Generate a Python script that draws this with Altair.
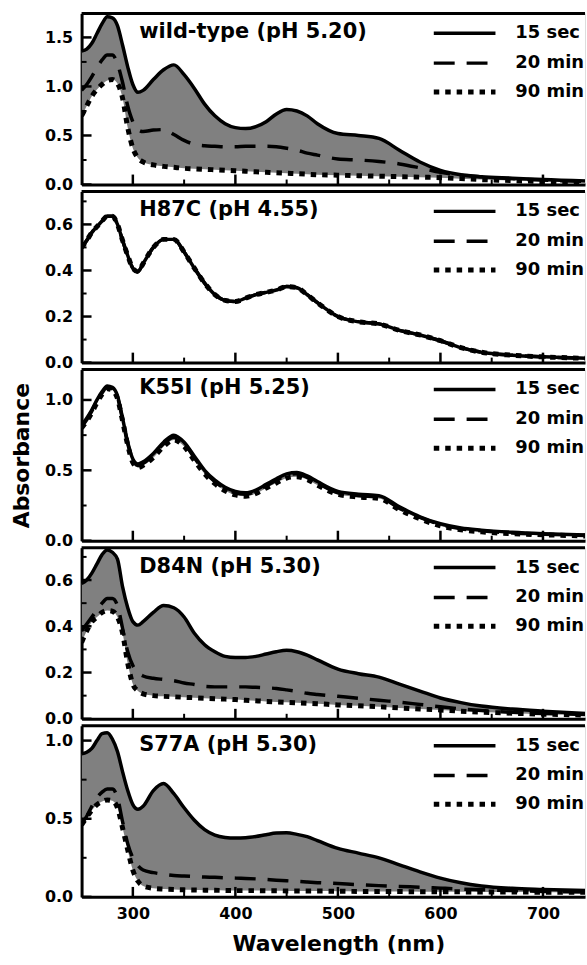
import altair as alt
import pandas as pd

# ---------------- data ----------------
WL = [250, 255, 260, 265, 270, 275, 280, 285, 290, 295, 300, 305, 310,
      320, 330, 340, 350, 360, 370, 380, 390, 400, 410, 420, 430, 440, 450, 460, 470, 480,
      500, 520, 540, 560, 580, 600, 620, 640,
      670, 700, 745]

WT_15S = [1.36, 1.38, 1.44, 1.54, 1.64, 1.71, 1.70, 1.62, 1.42, 1.20, 1.02, 0.94, 0.96,
          1.07, 1.17, 1.22, 1.12, 0.98, 0.82, 0.70, 0.62, 0.58, 0.57, 0.59, 0.64, 0.72, 0.765, 0.75, 0.70, 0.62,
          0.52, 0.50, 0.47, 0.35, 0.23, 0.145, 0.10, 0.08,
          0.065, 0.05, 0.035]
WT_20M = [0.96, 1.02, 1.10, 1.19, 1.27, 1.32, 1.32, 1.23, 1.04, 0.80, 0.64, 0.56, 0.54,
          0.555, 0.56, 0.51, 0.45, 0.41, 0.395, 0.39, 0.385, 0.385, 0.39, 0.39, 0.39, 0.385, 0.37, 0.35, 0.32, 0.30,
          0.26, 0.25, 0.235, 0.21, 0.17, 0.125, 0.095, 0.078,
          0.06, 0.045, 0.03]
WT_90M = [0.70, 0.80, 0.90, 0.97, 1.02, 1.06, 1.07, 1.03, 0.88, 0.58, 0.37, 0.27, 0.23,
          0.20, 0.185, 0.175, 0.165, 0.16, 0.155, 0.15, 0.145, 0.14, 0.135, 0.13, 0.125, 0.12, 0.115, 0.11, 0.105, 0.10,
          0.095, 0.09, 0.085, 0.08, 0.075, 0.07, 0.06, 0.05,
          0.04, 0.03, 0.025]

H87C_ALL = [0.50, 0.53, 0.565, 0.59, 0.615, 0.635, 0.635, 0.60, 0.53, 0.465, 0.41, 0.395, 0.43,
            0.50, 0.535, 0.535, 0.48, 0.41, 0.345, 0.295, 0.27, 0.265, 0.28, 0.295, 0.305, 0.315, 0.33, 0.325, 0.295, 0.26,
            0.20, 0.177, 0.168, 0.14, 0.12, 0.095, 0.065, 0.045,
            0.032, 0.025, 0.018]

K55I_15S = [0.82, 0.87, 0.93, 1.00, 1.06, 1.10, 1.09, 1.03, 0.87, 0.70, 0.58, 0.545, 0.56,
            0.62, 0.70, 0.75, 0.70, 0.60, 0.50, 0.43, 0.38, 0.35, 0.34, 0.36, 0.40, 0.44, 0.475, 0.485, 0.46, 0.42,
            0.35, 0.33, 0.32, 0.24, 0.17, 0.12, 0.09, 0.075,
            0.06, 0.05, 0.04]
K55I_20M = [0.81, 0.86, 0.92, 0.99, 1.05, 1.09, 1.08, 1.02, 0.86, 0.69, 0.57, 0.535, 0.55,
            0.61, 0.69, 0.735, 0.69, 0.59, 0.49, 0.42, 0.37, 0.34, 0.33, 0.35, 0.39, 0.43, 0.465, 0.475, 0.45, 0.41,
            0.34, 0.32, 0.31, 0.23, 0.165, 0.115, 0.085, 0.07,
            0.055, 0.046, 0.037]
K55I_90M = [0.80, 0.85, 0.91, 0.98, 1.04, 1.08, 1.07, 1.01, 0.85, 0.68, 0.555, 0.52, 0.535,
            0.59, 0.67, 0.715, 0.67, 0.57, 0.475, 0.405, 0.355, 0.325, 0.315, 0.335, 0.375, 0.41, 0.445, 0.455, 0.435, 0.395,
            0.33, 0.31, 0.30, 0.22, 0.155, 0.105, 0.078, 0.063,
            0.05, 0.042, 0.033]

D84N_15S = [0.585, 0.60, 0.63, 0.67, 0.71, 0.73, 0.72, 0.69, 0.57, 0.48, 0.42, 0.405, 0.42,
            0.46, 0.49, 0.48, 0.44, 0.37, 0.32, 0.29, 0.27, 0.265, 0.265, 0.27, 0.28, 0.29, 0.296, 0.29, 0.275, 0.255,
            0.215, 0.195, 0.18, 0.15, 0.12, 0.09, 0.07, 0.055,
            0.042, 0.033, 0.022]
D84N_20M = [0.38, 0.41, 0.44, 0.47, 0.50, 0.52, 0.52, 0.49, 0.39, 0.29, 0.23, 0.20, 0.185,
            0.175, 0.17, 0.165, 0.155, 0.148, 0.14, 0.138, 0.138, 0.138, 0.138, 0.136, 0.134, 0.131, 0.125, 0.118, 0.11, 0.105,
            0.097, 0.089, 0.08, 0.072, 0.062, 0.052, 0.043, 0.036,
            0.028, 0.023, 0.018]
D84N_90M = [0.33, 0.38, 0.42, 0.44, 0.46, 0.468, 0.465, 0.44, 0.37, 0.24, 0.15, 0.12, 0.108,
            0.10, 0.097, 0.095, 0.093, 0.091, 0.089, 0.087, 0.085, 0.083, 0.08, 0.078, 0.075, 0.073, 0.071, 0.069, 0.067, 0.065,
            0.06, 0.056, 0.052, 0.047, 0.042, 0.038, 0.033, 0.029,
            0.024, 0.02, 0.016]

S77A_15S = [0.915, 0.925, 0.95, 1.00, 1.045, 1.05, 1.01, 0.93, 0.80, 0.68, 0.59, 0.56, 0.58,
            0.68, 0.725, 0.66, 0.57, 0.49, 0.43, 0.395, 0.38, 0.376, 0.378, 0.386, 0.398, 0.408, 0.41, 0.40, 0.385, 0.36,
            0.31, 0.28, 0.25, 0.205, 0.16, 0.12, 0.09, 0.07,
            0.055, 0.048, 0.04]
S77A_20M = [0.47, 0.515, 0.58, 0.635, 0.67, 0.69, 0.69, 0.635, 0.48, 0.34, 0.25, 0.20, 0.172,
            0.155, 0.145, 0.137, 0.133, 0.13, 0.127, 0.125, 0.122, 0.12, 0.118, 0.115, 0.111, 0.107, 0.103, 0.099, 0.095, 0.091,
            0.085, 0.078, 0.072, 0.067, 0.062, 0.056, 0.05, 0.046,
            0.04, 0.035, 0.03]
S77A_90M = [0.46, 0.51, 0.555, 0.59, 0.61, 0.62, 0.615, 0.57, 0.44, 0.30, 0.17, 0.10, 0.07,
            0.055, 0.05, 0.047, 0.045, 0.044, 0.043, 0.042, 0.041, 0.04, 0.04, 0.04, 0.039, 0.039, 0.038, 0.038, 0.037, 0.037,
            0.036, 0.035, 0.035, 0.034, 0.033, 0.033, 0.032, 0.031,
            0.031, 0.03, 0.03]

PANEL_TITLES = ["wild-type (pH 5.20)", "H87C (pH 4.55)", "K55I (pH 5.25)", "D84N (pH 5.30)", "S77A (pH 5.30)"]
SERIES = [(WT_15S, WT_20M, WT_90M), (H87C_ALL, H87C_ALL, H87C_ALL), (K55I_15S, K55I_20M, K55I_90M),
          (D84N_15S, D84N_20M, D84N_90M), (S77A_15S, S77A_20M, S77A_90M)]
Y_MAX = [1.745, 0.743, 1.216, 0.74, 1.095]
Y_MAJOR = [[0, 0.5, 1.0, 1.5], [0, 0.2, 0.4, 0.6], [0, 0.5, 1.0], [0, 0.2, 0.4, 0.6], [0, 0.5, 1.0]]
Y_MINOR = [[0.25, 0.75, 1.25], [0.1, 0.3, 0.5, 0.7], [0.25, 0.75], [0.1, 0.3, 0.5, 0.7], [0.25, 0.75]]
X_MAJOR = [300, 400, 500, 600, 700]
X_MINOR = [350, 450, 550, 650]
X_DOMAIN = [250, 741]
LEGEND_LABELS = ["15 sec", "20 min", "90 min"]

# ---------------- styling ----------------
W, H = 506, 172
FONT = "DejaVu Sans"
GRAY = "#808080"
STYLES = [dict(strokeWidth=3.5), dict(strokeWidth=3.5, strokeDash=[21, 12]), dict(strokeWidth=5, strokeDash=[5.5, 6])]
LEG_Y = [20, 50, 79]


def panel(i):
    s15, m20, m90 = SERIES[i]
    last = i == len(PANEL_TITLES) - 1
    df = pd.DataFrame({"wl": WL, "s15": s15, "m20": m20, "m90": m90})
    xs = alt.Scale(domain=X_DOMAIN, nice=False, zero=False)
    ys = alt.Scale(domain=[0, Y_MAX[i]], nice=False)

    xkw = dict(values=X_MAJOR, ticks=False, grid=False, domainWidth=3, domainColor="black",
               labels=last, labelFont=FONT, labelFontSize=16, labelFontWeight="bold", labelColor="black",
               labelPadding=9, format="d")
    if last:
        xkw.update(title="Wavelength (nm)", titleFont=FONT, titleFontSize=22, titleFontWeight="bold",
                   titleColor="black", titlePadding=12, titleX=258)
    else:
        xkw.update(title=None)
    xaxis = alt.Axis(**xkw)

    ykw = dict(values=Y_MAJOR[i], ticks=False, grid=False, domainWidth=3, domainColor="black",
               labelFont=FONT, labelFontSize=16, labelFontWeight="bold", labelColor="black",
               labelPadding=9, format=".1f")
    if i == 2:
        ykw.update(title="Absorbance", titleFont=FONT, titleFontSize=22, titleFontWeight="bold",
                   titleColor="black", titlePadding=11)
    else:
        ykw.update(title=None)
    yaxis = alt.Axis(**ykw)

    def X(field="wl"):
        return alt.X(f"{field}:Q", scale=xs, axis=xaxis)

    def Y(field):
        return alt.Y(f"{field}:Q", scale=ys, axis=yaxis)

    base = alt.Chart(df)
    area = base.mark_area(color=GRAY, opacity=1, interpolate="monotone", clip=True).encode(
        x=X(), y=Y("s15"), y2="m90:Q")
    l90 = base.mark_line(color="black", interpolate="monotone", clip=True, strokeCap="butt", **STYLES[2]).encode(
        x=X(), y=Y("m90"))
    l20 = base.mark_line(color="black", interpolate="monotone", clip=True, strokeCap="butt", **STYLES[1]).encode(
        x=X(), y=Y("m20"))
    l15 = base.mark_line(color="black", interpolate="monotone", clip=True, **STYLES[0]).encode(
        x=X(), y=Y("s15"))

    xmaj = alt.Chart(pd.DataFrame({"wl": X_MAJOR})).mark_rule(color="black", strokeWidth=2.5).encode(
        x=X(), y=alt.value(H), y2=alt.value(H - 10))
    xmin = alt.Chart(pd.DataFrame({"wl": X_MINOR})).mark_rule(color="black", strokeWidth=2).encode(
        x=X(), y=alt.value(H), y2=alt.value(H - 5))
    ymaj = alt.Chart(pd.DataFrame({"v": Y_MAJOR[i]})).mark_rule(color="black", strokeWidth=2.5).encode(
        y=Y("v"), x=alt.value(0), x2=alt.value(10))
    ymin = alt.Chart(pd.DataFrame({"v": Y_MINOR[i]})).mark_rule(color="black", strokeWidth=2).encode(
        y=Y("v"), x=alt.value(0), x2=alt.value(5))

    one = pd.DataFrame({"k": [0]})
    top = alt.Chart(one).mark_rule(color="black", strokeWidth=3).encode(
        x=alt.value(0), x2=alt.value(W), y=alt.value(0))
    title = alt.Chart(pd.DataFrame({"t": [PANEL_TITLES[i]]})).mark_text(
        align="left", baseline="alphabetic", font=FONT, fontSize=21, fontWeight="bold", color="black").encode(
        x=alt.value(58), y=alt.value(25), text="t:N")

    layers = [area, l90, l20, l15, xmaj, xmin, ymaj, ymin, top, title]
    for k, lab in enumerate(LEGEND_LABELS):
        sty = dict(STYLES[k])
        layers.append(alt.Chart(one).mark_rule(color="black", strokeCap="butt", **sty).encode(
            x=alt.value(354), x2=alt.value(416), y=alt.value(LEG_Y[k])))
        layers.append(alt.Chart(pd.DataFrame({"t": [lab]})).mark_text(
            align="left", baseline="middle", font=FONT, fontSize=18, fontWeight="bold", color="black",
            clip=True).encode(x=alt.value(436), y=alt.value(LEG_Y[k]), text="t:N"))

    return alt.layer(*layers).properties(width=W, height=H)


chart = alt.vconcat(*[panel(i) for i in range(len(PANEL_TITLES))], spacing=7, bounds="flush").properties(
    padding={"left": 10, "top": 9, "right": 0, "bottom": 2}
).configure_view(stroke=None).configure(background="white")

chart.save("out.html", embed_options={"renderer": "svg", "actions": False})
